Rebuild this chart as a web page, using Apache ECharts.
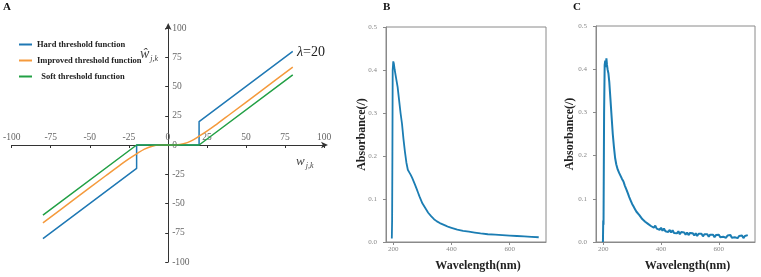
<!DOCTYPE html>
<html><head><meta charset="utf-8">
<script src="https://cdn.jsdelivr.net/npm/echarts@6/dist/echarts.min.js"></script>
<style>html,body{margin:0;padding:0;background:#fff}#c{width:761px;height:277px}</style>
</head><body><div id="c"></div>
<script>
// Panel A: threshold functions (lambda = 20)
const hardX = [-80, -20, -20, 20, 20, 80];
const hardY = [-80, -20, 0, 0, 20, 80];
const improvedX = [-80, -60, -40, -30, -25, -20, -15, -10, -5, 0, 5, 10, 15, 20, 25, 30, 40, 60, 80];
const improvedY = [-66.5, -46.5, -26.5, -16.5, -11.8, -7.5, -3.5, -1, -0.1, 0, 0.1, 1, 3.5, 7.5, 11.8, 16.5, 26.5, 46.5, 66.5];
const softX = [-80, -20, 20, 80];
const softY = [-60, 0, 0, 60];
const seriesNames = ['Hard threshold function', 'Improved threshold function', 'Soft threshold function'];

// Panel B: absorbance spectrum
const bWave = [195,196,197,198,199,200,202,205,210,215,220,225,230,235,240,245,250,255,260,265,270,275,280,285,290,295,300,310,320,330,340,350,360,370,380,390,400,420,440,460,480,500,525,550,575,600,625,650,675,700];
const bAbs  = [0.008,0.05,0.2,0.40,0.41,0.42,0.415,0.40,0.38,0.36,0.33,0.30,0.275,0.24,0.21,0.185,0.168,0.162,0.156,0.149,0.141,0.133,0.124,0.115,0.106,0.098,0.09,0.079,0.068,0.06,0.053,0.048,0.044,0.041,0.038,0.035,0.033,0.029,0.026,0.024,0.022,0.020,0.018,0.017,0.016,0.015,0.014,0.013,0.012,0.011];

// Panel C: absorbance spectrum (noisy)
const cWave = [199,200,201,203,205,207,209,211,213,215,218,221,225,229,233,237,241,245,250,255,260,265,270,275,280,285,290,295,300,305,310,315,320,325,
  330,335,340,345,350,355,360,365,370,375,380,385,390,395,400,405,410,415,420,425,430,435,440,445,450,455,460,465,470,475,480,485,490,495,500,
  505,510,515,520,525,530,535,540,545,550,555,560,565,570,575,580,585,590,595,600,605,610,615,620,625,630,635,640,645,650,655,660,665,670,675,680,685,690,695,700];
const cAbs  = [0.0,0.05,0.04,0.30,0.41,0.42,0.405,0.425,0.41,0.40,0.39,0.37,0.33,0.29,0.25,0.22,0.195,0.18,0.168,0.16,0.153,0.146,0.14,0.13,0.122,0.113,0.104,0.096,0.088,0.082,0.076,0.07,0.066,0.062,
  0.059,0.053,0.055,0.047,0.050,0.042,0.045,0.037,0.041,0.033,0.038,0.031,0.035,0.028,0.033,0.026,0.031,0.025,0.029,0.023,0.028,0.022,0.027,0.021,0.025,0.020,0.025,0.018,0.023,0.019,0.022,0.017,0.022,0.016,0.021,
  0.017,0.020,0.015,0.020,0.014,0.019,0.015,0.019,0.013,0.018,0.014,0.018,0.012,0.017,0.013,0.017,0.011,0.016,0.012,0.017,0.011,0.015,0.012,0.016,0.010,0.015,0.011,0.016,0.010,0.014,0.011,0.015,0.009,0.014,0.010,0.015,0.009,0.014,0.010,0.016];
const wavelengthTicks = [200, 400, 600];

const zip = (xs, ys) => xs.map((x, i) => [x, ys[i]]);
const serif = 'Liberation Serif';
const colA = ['#1f78b4', '#f59a3c', '#22a045'];
const specColor = '#1b7db3';

const gridA = {left: 11, top: 28, width: 313, height: 234};

const chart = echarts.init(document.getElementById('c'), null, {renderer: 'canvas'});

function specX(gi) {
  return {
    gridIndex: gi, type: 'value', min: 175, max: 725,
    name: 'Wavelength(nm)', nameLocation: 'middle', nameGap: 18,
    nameTextStyle: {fontFamily: serif, fontWeight: 'bold', fontSize: 12, color: '#222', padding: [0, 0, 0, 24]},
    axisLine: {lineStyle: {color: '#8a8a8a'}},
    axisTick: {length: 3, customValues: wavelengthTicks, lineStyle: {color: '#8a8a8a'}},
    axisLabel: {customValues: wavelengthTicks, fontFamily: serif, fontSize: 7, color: '#888', margin: 4},
    splitLine: {show: false}
  };
}
function specY(gi, gap) {
  return {
    gridIndex: gi, type: 'value', min: 0, max: 0.5, interval: 0.1,
    name: 'Absorbance(/)', nameLocation: 'middle', nameGap: gap, nameRotate: 90, nameMoveOverlap: false,
    nameTextStyle: {fontFamily: serif, fontWeight: 'bold', fontSize: 12, color: '#222'},
    axisLine: {show: true, lineStyle: {color: '#8a8a8a'}},
    axisTick: {show: true, length: 3, lineStyle: {color: '#8a8a8a'}},
    axisLabel: {fontFamily: serif, fontSize: 7, color: '#888', margin: 9, formatter: v => v.toFixed(1)},
    splitLine: {show: false}
  };
}

const option = {
  animation: false,
  backgroundColor: '#fff',
  grid: [
    gridA,
    {left: 386, top: 27, width: 160, height: 220, show: true, borderColor: '#8a8a8a', borderWidth: 1},
    {left: 596, top: 26, width: 159, height: 221, show: true, borderColor: '#8a8a8a', borderWidth: 1}
  ],
  legend: {
    data: seriesNames, orient: 'vertical', left: 14, top: 35, itemGap: 7,
    itemWidth: 13, itemHeight: 2, icon: 'rect',
    formatter: n => n.startsWith('Soft') ? '  ' + n : n,
    textStyle: {fontFamily: serif, fontWeight: 'bold', fontSize: 8.5, color: '#222'}
  },
  xAxis: [
    {
      gridIndex: 0, type: 'value', min: -100, max: 100, interval: 25,
      position: 'bottom', offset: -gridA.height / 2,
      axisLine: {onZero: false, symbol: ['none', 'arrow'], symbolSize: [5, 7], symbolOffset: [0, 4], lineStyle: {color: '#333'}},
      axisTick: {length: 3, lineStyle: {color: '#333'}},
      axisLabel: {inside: true, margin: 3, fontFamily: serif, fontSize: 9.5, color: '#666'},
      splitLine: {show: false}
    },
    specX(1), specX(2)
  ],
  yAxis: [
    {
      gridIndex: 0, type: 'value', min: -100, max: 100, interval: 25,
      position: 'left', offset: -gridA.width / 2,
      axisLine: {onZero: false, symbol: ['none', 'arrow'], symbolSize: [5, 7], symbolOffset: [0, 5], lineStyle: {color: '#333'}},
      axisTick: {show: true, length: 3, lineStyle: {color: '#333'}},
      axisLabel: {inside: true, margin: 4, fontFamily: serif, fontSize: 9.5, color: '#666'},
      splitLine: {show: false}
    },
    specY(1, 18), specY(2, 20)
  ],
  series: [
    {name: seriesNames[0], type: 'line', xAxisIndex: 0, yAxisIndex: 0, data: zip(hardX, hardY), showSymbol: false, lineStyle: {width: 1.5, color: colA[0]}, itemStyle: {color: colA[0]}},
    {name: seriesNames[1], type: 'line', xAxisIndex: 0, yAxisIndex: 0, data: zip(improvedX, improvedY), smooth: 0.3, showSymbol: false, lineStyle: {width: 1.5, color: colA[1]}, itemStyle: {color: colA[1]}},
    {name: seriesNames[2], type: 'line', xAxisIndex: 0, yAxisIndex: 0, data: zip(softX, softY), showSymbol: false, lineStyle: {width: 1.5, color: colA[2]}, itemStyle: {color: colA[2]}},
    {type: 'line', xAxisIndex: 1, yAxisIndex: 1, data: zip(bWave, bAbs), showSymbol: false, lineStyle: {width: 1.8, color: specColor}},
    {type: 'line', xAxisIndex: 2, yAxisIndex: 2, data: zip(cWave, cAbs), showSymbol: false, lineStyle: {width: 2, color: specColor}}
  ],
  graphic: [
    {type: 'text', left: 3, top: 2, style: {text: 'A', font: 'bold 11px "Liberation Serif"', fill: '#111'}},
    {type: 'text', left: 383, top: 2, style: {text: 'B', font: 'bold 11px "Liberation Serif"', fill: '#111'}},
    {type: 'text', left: 573, top: 2, style: {text: 'C', font: 'bold 11px "Liberation Serif"', fill: '#111'}},
    {type: 'text', left: 297, top: 45, style: {
      text: '{i|λ}{n|=20}', rich: {i: {font: 'italic 14px "Liberation Serif"', fill: '#222'}, n: {font: '14px "Liberation Serif"', fill: '#222'}}}},
    {type: 'text', left: 140, top: 47, style: {
      text: '{w|ŵ}{s|j,k}', rich: {w: {font: 'italic 14px "Liberation Serif"', fill: '#444'}, s: {font: 'italic 8px "Liberation Serif"', fill: '#444', verticalAlign: 'bottom', padding: [9, 0, 0, 1]}}}},
    {type: 'text', left: 296, top: 155, style: {
      text: '{w|w}{s|j,k}', rich: {w: {font: 'italic 13px "Liberation Serif"', fill: '#444'}, s: {font: 'italic 8px "Liberation Serif"', fill: '#444', verticalAlign: 'bottom', padding: [8, 0, 0, 1]}}}}
  ]
};
chart.setOption(option);
</script></body></html>
